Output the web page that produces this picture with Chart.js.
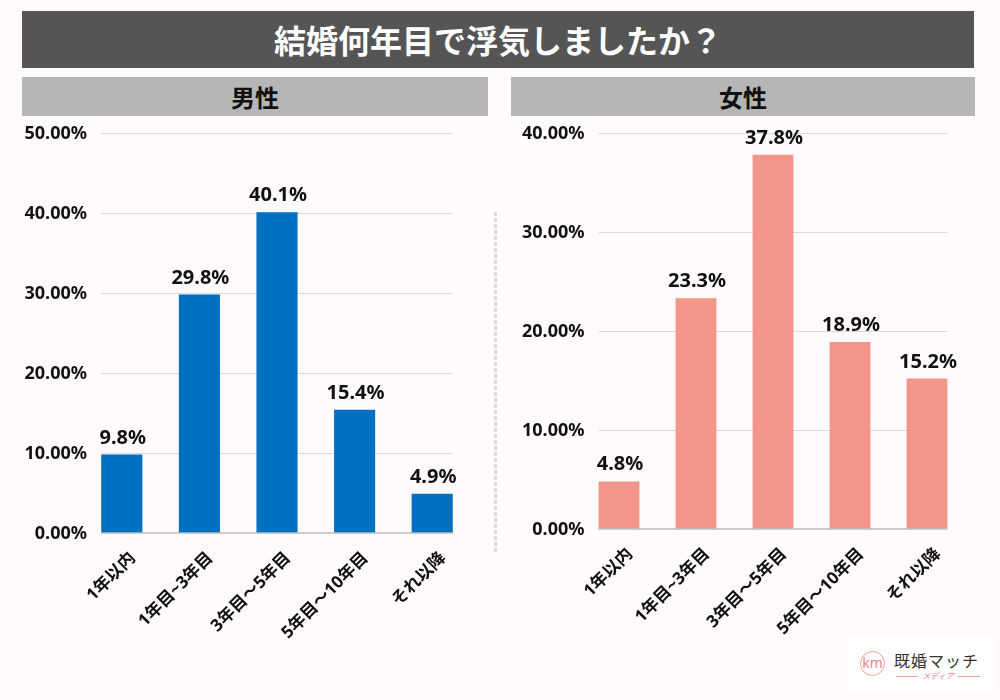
<!DOCTYPE html>
<html>
<head>
<meta charset="utf-8">
<script src="https://cdn.jsdelivr.net/npm/chart.js@4/dist/chart.umd.min.js"></script>
<style>
  body { margin: 0; background: #fffafb; }
  #page { position: relative; width: 1000px; height: 700px; overflow: hidden; background: #fffafb;
          font-family: 'Noto Sans CJK JP', 'Noto Sans', sans-serif; }
  .title { position: absolute; left: 22px; top: 11px; width: 952px; height: 57px; background: #555555;
           color: #fff; font-weight: bold; font-size: 32px; line-height: 57px; text-align: center; }
  .head { position: absolute; top: 77px; height: 39px; background: #b6b6b6; color: #111;
          font-weight: bold; font-size: 24px; line-height: 39px; text-align: center; }
  .box { position: absolute; top: 110px; height: 590px; }
  .divider { position: absolute; left: 494px; top: 212px; width: 3px; height: 340px;
             background: repeating-linear-gradient(to bottom, #d9d9d9 0 4px, transparent 4px 6px); }
  .logo { position: absolute; left: 848px; top: 635px; width: 146px; height: 57px; background: #fff; }
  .logo .circle { position: absolute; left: 12px; top: 16px; width: 23px; height: 23px; border: 1px solid #f2a0a0;
                  border-radius: 50%; color: #ee8585; font-size: 14px; line-height: 21px; text-align: center;
                  font-family: 'Noto Sans', sans-serif; }
  .logo .name { position: absolute; left: 46px; top: 15px; font-size: 16px; letter-spacing: 1px; color: #333;
                line-height: 20px; white-space: nowrap; }
  .logo .sub { position: absolute; left: 48px; top: 36px; width: 84px; font-size: 8px; color: #ee8585;
               line-height: 10px; text-align: center; font-style: italic; }
  .logo .sub:before, .logo .sub:after { content: ''; position: absolute; top: 5px; width: 22px; height: 1px; background: #f0a0a0; }
  .logo .sub:before { left: 0; }
  .logo .sub:after { right: 0; }
</style>
</head>
<body>
<div id="page">
  <div class="title">結婚何年目で浮気しましたか？</div>
  <div class="head" style="left:22px;width:466px;">男性</div>
  <div class="head" style="left:511px;width:464px;">女性</div>
  <div class="box" style="left:0;width:495px;"><canvas id="maleChart"></canvas></div>
  <div class="box" style="left:497px;width:503px;"><canvas id="femaleChart"></canvas></div>
  <div class="divider"></div>
  <div class="logo">
    <div class="circle">km</div>
    <div class="name">既婚マッチ</div>
    <div class="sub">メディア</div>
  </div>
</div>

<script>
// Data
const categories = ["1年以内", "1年目~3年目", "3年目～5年目", "5年目～10年目", "それ以降"];
const maleValues = [9.8, 29.8, 40.1, 15.4, 4.9];
const femaleValues = [4.8, 23.3, 37.8, 18.9, 15.2];
const maleTicks = [0, 10, 20, 30, 40, 50];
const femaleTicks = [0, 10, 20, 30, 40];

const numFont = "'Noto Sans', 'Noto Sans CJK JP', sans-serif";

function barSpan(chart) {
    const bars = chart.getDatasetMeta(0).data;
    const first = bars[0], last = bars[bars.length - 1];
    return [first.x - first.width / 2, last.x + last.width / 2];
}

// grid lines only between first bar's left edge and last bar's right edge,
// y tick labels, baseline and value labels
const gridPlugin = {
    id: 'shortGrid',
    beforeDatasetsDraw(chart) {
        const ctx = chart.ctx;
        const y = chart.scales.y;
        const [x0, x1] = barSpan(chart);
        ctx.save();
        ctx.strokeStyle = '#d9d9d9';
        ctx.lineWidth = 1;
        y.ticks.forEach(t => {
            if (t.value === 0) return;
            const py = Math.round(y.getPixelForValue(t.value)) + 0.5;
            ctx.beginPath();
            ctx.moveTo(x0, py);
            ctx.lineTo(x1, py);
            ctx.stroke();
        });
        // y tick labels
        ctx.fillStyle = '#111';
        ctx.font = 'bold 18px ' + numFont;
        ctx.textAlign = 'right';
        ctx.textBaseline = 'middle';
        y.ticks.forEach(t => {
            ctx.fillText(t.value.toFixed(2) + '%', chart.chartArea.left + 4, y.getPixelForValue(t.value) + 1);
        });
        ctx.restore();
    },
    afterDatasetsDraw(chart) {
        const ctx = chart.ctx;
        const y = chart.scales.y;
        const bars = chart.getDatasetMeta(0).data;
        const [x0, x1] = barSpan(chart);
        ctx.save();
        // baseline
        ctx.strokeStyle = '#bdbdbd';
        ctx.lineWidth = 1.5;
        const py = y.getPixelForValue(0);
        ctx.beginPath();
        ctx.moveTo(x0, py);
        ctx.lineTo(x1, py);
        ctx.stroke();
        // value labels
        ctx.fillStyle = '#111';
        ctx.font = 'bold 20px ' + numFont;
        ctx.textAlign = 'center';
        ctx.textBaseline = 'alphabetic';
        const vals = chart.data.datasets[0].data;
        bars.forEach((bar, i) => {
            ctx.fillText(vals[i].toFixed(1) + '%', bar.x + 1, bar.y - 11);
        });
        ctx.restore();
    }
};

function makeChart(id, values, ticks, color, yWidth, xHeight, padRight) {
    const ctx = document.getElementById(id).getContext('2d');
    return new Chart(ctx, {
        type: 'bar',
        data: {
            labels: categories,
            datasets: [{
                data: values,
                backgroundColor: color,
                borderWidth: 0,
                barPercentage: 0.53,
                categoryPercentage: 1.0
            }]
        },
        options: {
            responsive: true,
            maintainAspectRatio: false,
            animation: false,
            layout: { padding: { top: 23, right: padRight, left: 0, bottom: 0 } },
            plugins: {
                legend: { display: false },
                tooltip: { enabled: false }
            },
            scales: {
                x: {
                    grid: { display: false, drawTicks: false },
                    border: { display: false },
                    ticks: {
                        color: '#111',
                        font: { family: numFont, size: 17, weight: 'bold' },
                        minRotation: 45,
                        maxRotation: 45,
                        padding: 15,
                        labelOffset: 11,
                        autoSkip: false
                    },
                    afterFit(scale) { scale.height = xHeight; }
                },
                y: {
                    min: 0,
                    max: ticks[ticks.length - 1],
                    grid: { display: false, drawTicks: false },
                    border: { display: false },
                    afterBuildTicks(scale) { scale.ticks = ticks.map(v => ({ value: v })); },
                    ticks: { display: false },
                    afterFit(scale) { scale.width = yWidth; }
                }
            }
        },
        plugins: [gridPlugin]
    });
}

makeChart('maleChart', maleValues, maleTicks, '#0070c0', 83, 167, 24);
makeChart('femaleChart', femaleValues, femaleTicks, '#f3968a', 83.5, 171, 34.5);
</script>
</body>
</html>
